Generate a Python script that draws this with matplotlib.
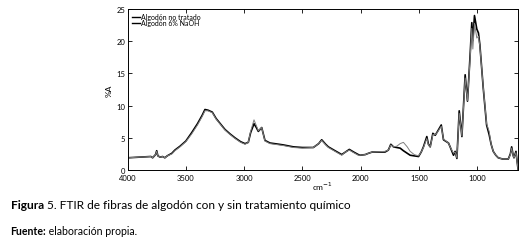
import matplotlib
matplotlib.use("Agg")
import matplotlib.pyplot as plt

# wavenumber (cm-1), absorbance of untreated and NaOH treated cotton
wavenumber = [4000, 3900, 3800, 3785, 3760, 3750, 3740, 3720, 3700, 3680,
              3660, 3620, 3594, 3550, 3500, 3450, 3400, 3360, 3336, 3310,
              3273, 3240, 3200, 3164, 3120, 3078, 3030, 2992, 2964, 2944,
              2915, 2895, 2878, 2849, 2821, 2778, 2700, 2663, 2577, 2500,
              2406, 2360, 2334, 2300, 2277, 2220, 2162, 2130, 2097, 2060,
              2020, 2005, 1960, 1933, 1900, 1790, 1762, 1741, 1718, 1690,
              1661, 1633, 1600, 1575, 1540, 1503, 1480, 1461, 1432, 1418,
              1403, 1380, 1360, 1340, 1308, 1289, 1246, 1232, 1203, 1189,
              1174, 1154, 1131, 1103, 1083, 1060, 1046, 1037, 1023, 1003,
              989, 977, 948, 919, 897, 880, 862, 840, 819, 780,
              733, 715, 704, 690, 684, 667, 655, 648]
no_tratado = [1.9, 2.0, 2.1, 1.9, 2.4, 3.0, 2.2, 2.0, 2.1, 1.9,
              2.2, 2.6, 3.1, 3.7, 4.5, 5.8, 7.2, 8.5, 9.4, 9.3,
              9.0, 8.0, 7.1, 6.3, 5.6, 5.0, 4.4, 4.1, 4.3, 5.8,
              7.2, 6.6, 6.0, 6.6, 4.6, 4.2, 4.0, 3.9, 3.6, 3.5,
              3.5, 4.1, 4.7, 4.0, 3.6, 3.0, 2.4, 2.8, 3.2, 2.8,
              2.4, 2.3, 2.4, 2.6, 2.8, 2.8, 3.1, 4.0, 3.6, 3.5,
              3.4, 3.0, 2.6, 2.3, 2.2, 2.1, 2.8, 3.6, 5.2, 4.0,
              3.6, 5.7, 5.4, 6.0, 7.0, 4.7, 4.2, 3.6, 2.3, 2.9,
              1.8, 9.2, 5.2, 14.8, 10.7, 18.0, 22.9, 20.1, 24.0, 21.9,
              21.3, 19.5, 12.8, 7.0, 5.5, 4.0, 2.9, 2.3, 1.9, 1.7,
              1.7, 2.5, 3.6, 2.2, 1.9, 2.9, 1.0, 0.0]
naoh_6 = [1.9, 2.0, 2.1, 1.9, 2.4, 2.9, 2.2, 2.0, 2.1, 1.9,
          2.2, 2.5, 3.0, 3.6, 4.4, 5.6, 7.0, 8.3, 9.2, 9.2,
          8.9, 7.9, 7.0, 6.2, 5.5, 4.9, 4.3, 4.0, 4.3, 6.0,
          7.8, 6.9, 6.1, 6.6, 4.5, 4.1, 3.9, 3.8, 3.5, 3.4,
          3.5, 4.1, 4.6, 3.9, 3.5, 2.9, 2.3, 2.8, 3.1, 2.7,
          2.3, 2.3, 2.4, 2.6, 2.8, 2.9, 3.1, 3.9, 3.6, 3.7,
          4.1, 4.3, 3.6, 2.9, 2.4, 2.2, 2.8, 3.5, 4.9, 3.9,
          3.6, 5.5, 5.5, 5.9, 6.8, 4.8, 4.2, 3.6, 2.6, 2.8,
          1.9, 8.8, 5.3, 14.3, 10.8, 17.5, 22.0, 18.8, 22.8, 20.5,
          20.8, 19.3, 12.9, 7.2, 6.0, 4.0, 2.9, 2.3, 1.9, 1.7,
          1.7, 2.4, 3.4, 2.2, 1.9, 2.7, 1.0, 0.0]

xticks = [4000, 3500, 3000, 2500, 2000, 1500, 1000]
yticks = [0, 5, 10, 15, 20, 25]

plt.rcParams['font.family'] = ['Lato', 'DejaVu Sans']

fig = plt.figure(figsize=(5.25, 2.53), dpi=100)
ax = fig.add_axes([0.243, 0.324, 0.744, 0.636])

ax.plot(wavenumber, no_tratado, color='black', lw=1.2, label='Algodón no tratado')
ax.plot(wavenumber, naoh_6, color='#808080', lw=0.7, label='Algodón 6% NaOH')

ax.set_xlim(4000, 648)
ax.set_ylim(0, 25)
ax.set_xticks(xticks)
ax.set_yticks(yticks)
ax.tick_params(direction='in', length=3, width=0.6, labelsize=5.5,
               top=True, right=True)
ax.tick_params(axis='x', pad=3)
ax.tick_params(axis='y', pad=1.5)
for s in ax.spines.values():
    s.set_linewidth(0.7)

ax.set_xlabel('cm$^{-1}$', fontsize=6, labelpad=-1)
ax.set_ylabel('%A', fontsize=6, labelpad=3)

leg = ax.legend(loc='upper left', frameon=False, fontsize=5, handlelength=1.2,
                handletextpad=0.2, labelspacing=-0.15, borderaxespad=0.1,
                borderpad=0.5)
for h in leg.get_lines():
    h.set_color('black')
    h.set_linewidth(1.0)

# caption below the chart
t1 = fig.text(0.02, 1 - 206 / 253, 'Figura', fontsize=8.6, fontweight='bold',
              va='center', ha='left')
ax.annotate(' 5. FTIR de fibras de algodón con y sin tratamiento químico',
            xy=(1, 0.5), xycoords=t1, fontsize=8.6, va='center', ha='left',
            annotation_clip=False)
t2 = fig.text(0.02, 1 - 232 / 253, 'Fuente:', fontsize=7.6, fontweight='bold',
              va='center', ha='left')
ax.annotate(' elaboración propia.', xy=(1, 0.5), xycoords=t2, fontsize=7.6,
            va='center', ha='left', annotation_clip=False)

fig.savefig('out.png', dpi=100)
